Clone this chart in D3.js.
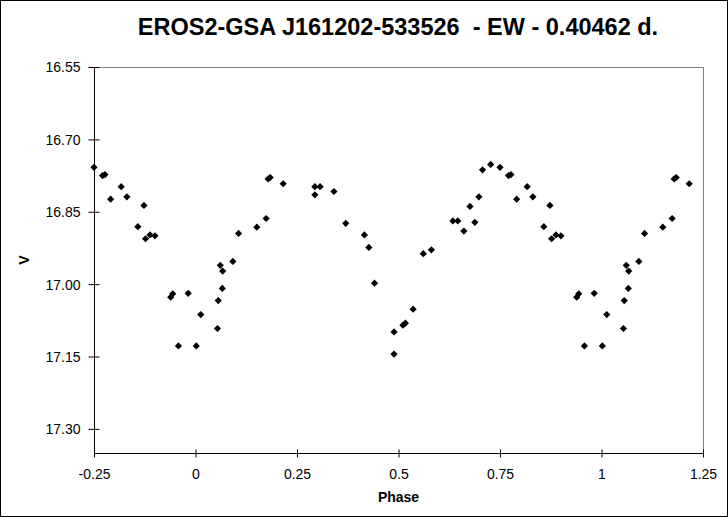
<!DOCTYPE html>
<html><head><meta charset="utf-8">
<script src="https://cdn.jsdelivr.net/npm/d3@7"></script>
<style>
html,body{margin:0;padding:0;background:#fff;}
svg{display:block;font-family:"Liberation Sans",Arial,sans-serif;}
</style></head>
<body>
<svg id="chart" width="728" height="517"></svg>
<script>
const titleText = "EROS2-GSA J161202-533526  - EW - 0.40462 d.";
const xTickValues = [-0.25, 0, 0.25, 0.5, 0.75, 1, 1.25];
const xTickLabels = ["-0.25", "0", "0.25", "0.5", "0.75", "1", "1.25"];
const yTickValues = [16.55, 16.70, 16.85, 17.00, 17.15, 17.30];
const yTickLabels = ["16.55", "16.70", "16.85", "17.00", "17.15", "17.30"];

const phase = [
  -0.250, -0.229, -0.223, -0.209, -0.183, -0.169, -0.142, -0.127, -0.123, -0.112, -0.100,
  -0.061, -0.056, -0.042, -0.018,
  0.002, 0.013, 0.054, 0.056, 0.061, 0.066, 0.067, 0.092, 0.106, 0.151, 0.174, 0.179, 0.184, 0.216,
  0.294, 0.294, 0.307, 0.341, 0.370, 0.416, 0.427, 0.441, 0.489, 0.489, 0.511, 0.517, 0.536,
  0.561, 0.581, 0.634, 0.646, 0.661, 0.676, 0.688, 0.698, 0.707, 0.727,
  0.750, 0.771, 0.777, 0.791, 0.817, 0.831, 0.858, 0.873, 0.877, 0.888, 0.900,
  0.939, 0.944, 0.958, 0.982,
  1.002, 1.013, 1.054, 1.056, 1.061, 1.066, 1.067, 1.092, 1.106, 1.151, 1.174, 1.179, 1.184, 1.216
];
const magV = [
  16.758, 16.775, 16.773, 16.824, 16.798, 16.819, 16.881, 16.837, 16.906, 16.898, 16.900,
  17.027, 17.020, 17.128, 17.019,
  17.128, 17.063, 17.092, 17.034, 16.961, 17.009, 16.973, 16.953, 16.895, 16.882, 16.864, 16.782, 16.779, 16.792,
  16.798, 16.815, 16.798, 16.808, 16.874, 16.898, 16.924, 16.998, 17.099, 17.145, 17.085, 17.081, 17.052,
  16.937, 16.929, 16.869, 16.869, 16.890, 16.839, 16.872, 16.819, 16.763, 16.752,
  16.758, 16.775, 16.773, 16.824, 16.798, 16.819, 16.881, 16.837, 16.906, 16.898, 16.900,
  17.027, 17.020, 17.128, 17.019,
  17.128, 17.063, 17.092, 17.034, 16.961, 17.009, 16.973, 16.953, 16.895, 16.882, 16.864, 16.782, 16.779, 16.792
];

const svg = d3.select("#chart");
const W = 728, H = 517;
const plot = {left: 94, right: 703, top: 67, bottom: 453};

svg.append("rect").attr("x", 0.5).attr("y", 0.5).attr("width", W - 1).attr("height", H - 1)
  .attr("fill", "#fff").attr("stroke", "#000").attr("stroke-width", 1);

const x = d3.scaleLinear().domain([-0.25, 1.25]).range([plot.left, plot.right]);
const y = d3.scaleLinear().domain([16.55, 17.35]).range([plot.top, plot.bottom]);

// plot frame (gray top/right)
svg.append("path")
  .attr("d", `M${plot.left},${plot.top + 0.5}H${plot.right + 0.5}V${plot.bottom}`)
  .attr("fill", "none").attr("stroke", "#808080").attr("stroke-width", 1);

// Y axis
const yAxis = d3.axisLeft(y).tickValues(yTickValues)
  .tickFormat((d, i) => yTickLabels[i]).tickSizeInner(5).tickSizeOuter(0).tickPadding(9);
const gy = svg.append("g").attr("transform", `translate(${plot.left + 0.5},0)`).call(yAxis);
gy.select(".domain").attr("stroke", "#000").attr("d", `M0,${plot.top}V${plot.bottom}`);
gy.selectAll(".tick line").attr("x1", 5).attr("x2", -6).attr("stroke", "#000");
gy.selectAll(".tick text").attr("font-size", 14).attr("font-family", "'Liberation Sans',Arial,sans-serif")
  .attr("fill", "#000").attr("dy", "0.35em");

// X axis
const xAxis = d3.axisBottom(x).tickValues(xTickValues)
  .tickFormat((d, i) => xTickLabels[i]).tickSizeInner(4).tickSizeOuter(0).tickPadding(12);
const gx = svg.append("g").attr("transform", `translate(0,${plot.bottom + 0.5})`).call(xAxis);
gx.select(".domain").attr("stroke", "#000").attr("d", `M${plot.left},0H${plot.right + 0.5}`);
gx.selectAll(".tick line").attr("y1", -4).attr("y2", 4).attr("stroke", "#000");
gx.selectAll(".tick text").attr("font-size", 14).attr("font-family", "'Liberation Sans',Arial,sans-serif")
  .attr("fill", "#000");

// Points
const pts = phase.map((p, i) => ({p, m: magV[i]}));
const sym = d3.symbol().type(d3.symbolSquare).size(26);
svg.append("g").selectAll("path").data(pts).join("path")
  .attr("d", sym)
  .attr("transform", d => `translate(${x(d.p)},${y(d.m)}) rotate(45)`)
  .attr("fill", "#000");

// Title
svg.append("text").attr("x", 398).attr("y", 35).attr("text-anchor", "middle")
  .attr("font-size", 23.5).attr("font-weight", "bold").attr("fill", "#000")
  .style("white-space", "pre").attr("xml:space", "preserve")
  .text(titleText);

// Axis titles
svg.append("text").attr("x", (plot.left + plot.right) / 2).attr("y", 502).attr("text-anchor", "middle")
  .attr("font-size", 14).attr("font-weight", "bold").attr("fill", "#000").text("Phase");
svg.append("text").attr("transform", `translate(29,${(plot.top + plot.bottom) / 2}) rotate(-90)`)
  .attr("text-anchor", "middle").attr("font-size", 14).attr("font-weight", "bold").attr("fill", "#000").text("V");
</script>
</body></html>
